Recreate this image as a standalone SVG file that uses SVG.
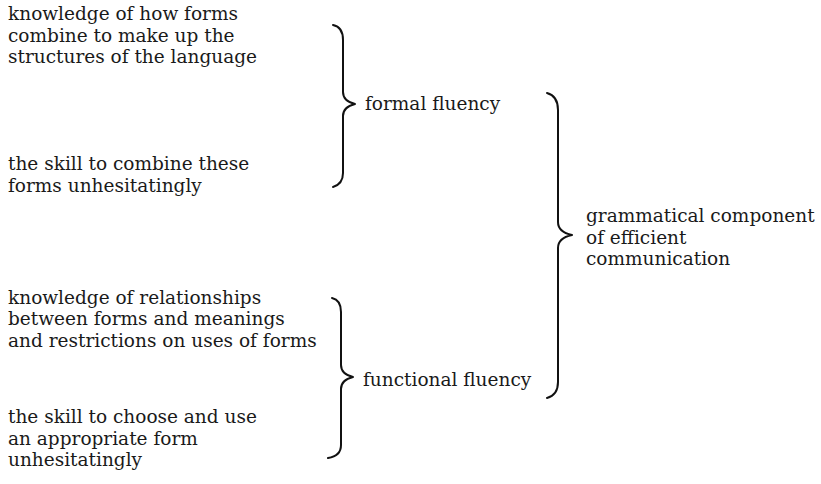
<svg xmlns="http://www.w3.org/2000/svg" width="821" height="484" viewBox="0 0 821 484">
  <style>
    .t { font-family: "DejaVu Serif", "Liberation Serif", serif; font-size: 18.5px; fill: #1a1a1a; }
    .brace { fill: none; stroke: #111; stroke-width: 2; stroke-linecap: round; stroke-linejoin: round; }
  </style>
  <rect width="821" height="484" fill="#ffffff"/>

  <g id="node-form-knowledge" class="t">
    <text x="8" y="20">knowledge of how forms</text>
    <text x="8" y="42">combine to make up the</text>
    <text x="8" y="63">structures of the language</text>
  </g>
  <g id="node-form-skill" class="t">
    <text x="8" y="170">the skill to combine these</text>
    <text x="8" y="192">forms unhesitatingly</text>
  </g>
  <g id="node-function-knowledge" class="t">
    <text x="8" y="304">knowledge of relationships</text>
    <text x="8" y="325">between forms and meanings</text>
    <text x="8" y="347">and restrictions on uses of forms</text>
  </g>
  <g id="node-function-skill" class="t">
    <text x="8" y="423">the skill to choose and use</text>
    <text x="8" y="445">an appropriate form</text>
    <text x="8" y="466">unhesitatingly</text>
  </g>
  <g id="node-formal-fluency" class="t">
    <text x="365" y="110">formal fluency</text>
  </g>
  <g id="node-functional-fluency" class="t">
    <text x="363" y="386">functional fluency</text>
  </g>
  <g id="node-grammatical" class="t">
    <text x="586" y="222">grammatical component</text>
    <text x="586" y="244">of efficient</text>
    <text x="586" y="265">communication</text>
  </g>

  <g id="connectors">
    <path class="brace" d="M333,25 Q343,27 343,40 L343,92 Q343,101 355,104 Q343,107 343,116 L343,173 Q343,184 333,187"/>
    <path class="brace" d="M332,298 Q341,300 341,312 L341,365 Q341,374 353,377 Q341,380 341,389 L341,445 Q341,456 328,458"/>
    <path class="brace" d="M547,93 Q558,96 558,110 L558,222 Q558,232 572,235 Q558,238 558,248 L558,382 Q558,395 547,398"/>
  </g>
</svg>
